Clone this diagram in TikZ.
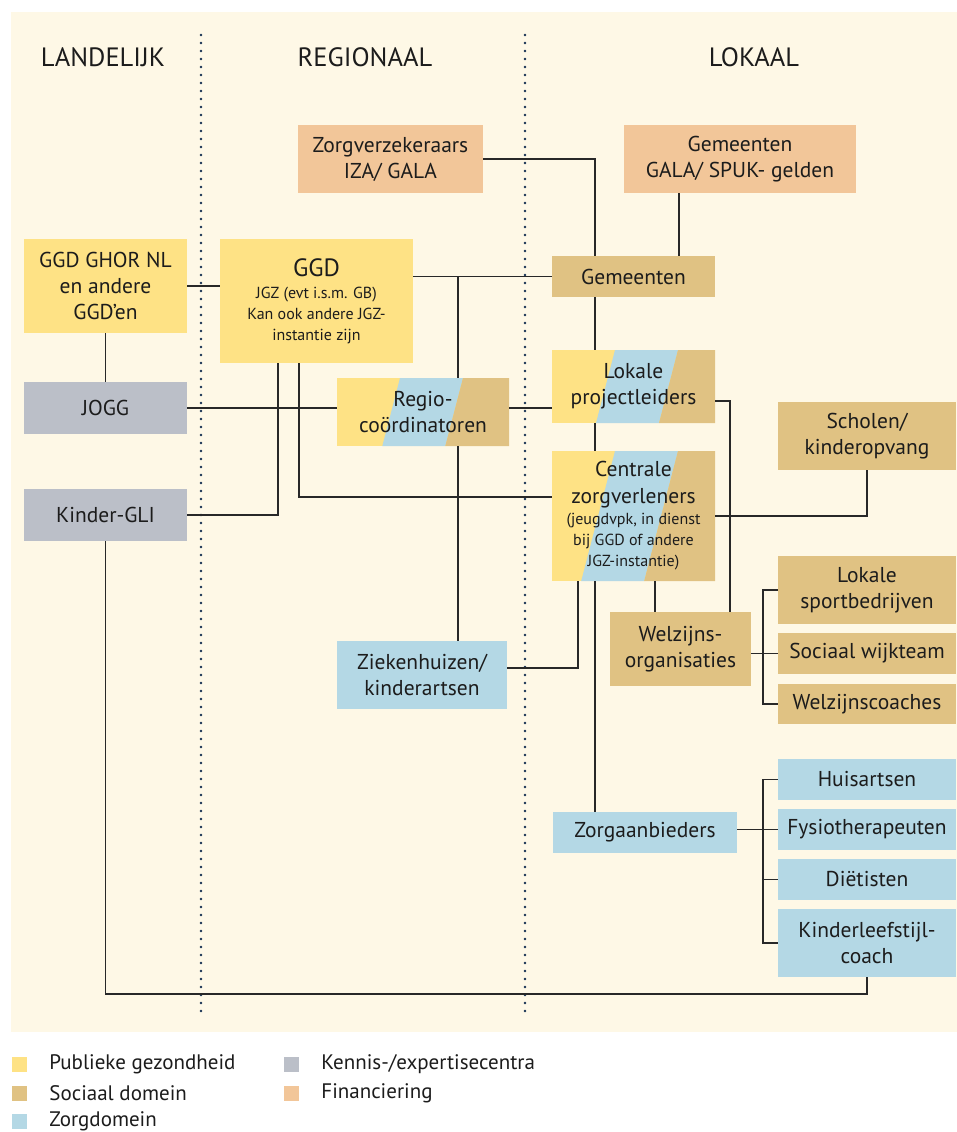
\documentclass[tikz,border=0pt]{standalone}
\usepackage{fontspec}
\setmainfont{PT Sans}
\definecolor{pgyellow}{RGB}{254,226,133}
\definecolor{sdtan}{RGB}{224,194,131}
\definecolor{zdblue}{RGB}{180,216,229}
\definecolor{kcgray}{RGB}{187,191,200}
\definecolor{fiorange}{RGB}{242,198,153}
\definecolor{bgcream}{RGB}{254,248,230}
\definecolor{lineink}{RGB}{40,40,40}
\definecolor{dotnavy}{RGB}{20,48,82}
\definecolor{textink}{RGB}{28,28,28}
\usetikzlibrary{positioning,calc}
\newcommand{\subsz}{\fontsize{16}{21}\selectfont}

\begin{document}
\begin{tikzpicture}[x=1pt, y=-1pt,
    orgbox/.style={rectangle, inner sep=0pt, align=center, text=textink,
                   font=\fontsize{21.5}{26}\selectfont},
    mixbox/.style={orgbox, fill=pgyellow, path picture={
        \fill[zdblue] let \p1=(path picture bounding box.north west),
                          \p2=(path picture bounding box.south east) in
          (\x1+63pt,\y1) -- (\x1+126pt,\y1)
          -- (\x1+126pt-0.26*\y1+0.26*\y2,\y2) -- (\x1+63pt-0.26*\y1+0.26*\y2,\y2) -- cycle;
        \fill[sdtan] let \p1=(path picture bounding box.north west),
                         \p2=(path picture bounding box.south east) in
          (\x1+126pt,\y1) -- (\x2,\y1) -- (\x2,\y2)
          -- (\x1+126pt-0.26*\y1+0.26*\y2,\y2) -- cycle;}},
    conn/.style={draw=lineink, line width=1.4pt},
    divider/.style={dotnavy, line width=2.8pt, line cap=round, dash pattern=on 0pt off 8pt},
    header/.style={font=\fontsize{26.5}{30}\selectfont, text=textink},
    legsq/.style={rectangle, inner sep=0pt, minimum size=15pt},
    legtxt/.style={inner sep=0pt, font=\fontsize{21}{24}\selectfont, text=textink}
  ]
    \useasboundingbox (0,0) rectangle (957,1132);
    \fill[white] (0,0) rectangle (957,1132);
    \fill[bgcream] (11,12) rectangle (957,1032);

    % Column dividers and headers
    \draw[divider] (201,35) -- (201,1018);
    \draw[divider] (525,35) -- (525,1018);
    \node[header] (hland) at (103,57) {LANDELIJK};
    \node[header] (hreg)  at (365,57) {REGIONAAL};
    \node[header] (hlok)  at (754,57) {LOKAAL};

    % Financiering
    \node[orgbox, fill=fiorange, minimum width=185pt, minimum height=68pt] (zv)  at (390.5,159) {Zorgverzekeraars\\IZA/ GALA};
    \node[orgbox, fill=fiorange, minimum width=232pt, minimum height=68pt] (gmf) at (740,159) {Gemeenten\\GALA/ SPUK- gelden};

    % Landelijk
    \node[orgbox, fill=pgyellow, minimum width=163pt, minimum height=94pt] (ghor) at (105.5,286) {GGD GHOR NL\\en andere\\GGD’en};
    \node[orgbox, fill=kcgray, minimum width=163pt, minimum height=52pt] (jogg) at (105.5,408) {JOGG};
    \node[orgbox, fill=kcgray, minimum width=163pt, minimum height=52pt] (gli)  at (105.5,515) {Kinder-GLI};

    % Regionaal
    \node[orgbox, fill=pgyellow, font=\subsz, minimum width=193pt, minimum height=124pt] (ggd) at (316.5,301)
      {{\fontsize{25}{28}\selectfont GGD}\\[1pt]JGZ (evt i.s.m. GB)\\Kan ook andere JGZ-\\instantie zijn};
    \node[mixbox, minimum width=172pt, minimum height=68pt] (regio) at (423,412) {Regio-\\coördinatoren};
    \node[orgbox, fill=zdblue, minimum width=170pt, minimum height=68pt] (zhuis) at (422,675) {Ziekenhuizen/\\kinderartsen};

    % Lokaal
    \node[orgbox, fill=sdtan, minimum width=163pt, minimum height=41pt] (gem) at (633.5,276.5) {Gemeenten};
    \node[mixbox, minimum width=163pt, minimum height=73pt] (plead) at (633.5,386.5) {Lokale\\projectleiders};
    \node[mixbox, font=\subsz, minimum width=163pt, minimum height=130pt] (cent) at (633.5,516)
      {{\fontsize{21.5}{26}\selectfont Centrale}\\[6pt]{\fontsize{21.5}{26}\selectfont zorgverleners}\\(jeugdvpk, in dienst\\bij GGD of andere\\JGZ-instantie)};
    \node[orgbox, fill=sdtan, minimum width=178pt, minimum height=68pt] (scholen) at (867,436) {Scholen/\\kinderopvang};
    \node[orgbox, fill=sdtan, minimum width=141pt, minimum height=74pt] (welz) at (680.5,649) {Welzijns-\\organisaties};
    \node[orgbox, fill=sdtan, minimum width=178pt, minimum height=68pt] (sport) at (867,590) {Lokale\\sportbedrijven};
    \node[orgbox, fill=sdtan, minimum width=178pt, minimum height=41pt] (wijk)  at (867,653.5) {Sociaal wijkteam};
    \node[orgbox, fill=sdtan, minimum width=178pt, minimum height=40pt] (coach) at (867,704) {Welzijnscoaches};
    \node[orgbox, fill=zdblue, minimum width=184pt, minimum height=41pt] (zorg) at (645,832.5) {Zorgaanbieders};
    \node[orgbox, fill=zdblue, minimum width=178pt, minimum height=41pt] (hui)   at (867,779.5) {Huisartsen};
    \node[orgbox, fill=zdblue, minimum width=178pt, minimum height=41pt] (fysio) at (867,829.5) {Fysiotherapeuten};
    \node[orgbox, fill=zdblue, minimum width=178pt, minimum height=41pt] (diet)  at (867,879.5) {Diëtisten};
    \node[orgbox, fill=zdblue, minimum width=178pt, minimum height=68pt] (kls)   at (867,943) {Kinderleefstijl-\\coach};

    % Helper points for the trunk lines
    \coordinate (trunk) at (595,0);
    \coordinate (regv)  at (458,276);
    \coordinate (wbr)   at (763,0);
    \coordinate (zbr)   at (763,0);
    \coordinate (loop)  at (0,994);

    % Connectors
    \draw[conn] (ghor.east) -- (ghor.east -| ggd.west);
    \draw[conn] (ghor.south) -- (jogg.north);
    \draw[conn] (ggd.east |- gem.west) -- (gem.west);
    \draw[conn] (regv |- gem.west) -- (regv |- regio.north);
    \draw[conn] (regv |- regio.south) -- (regv |- zhuis.north);
    \draw[conn] (zv.east) -| (trunk |- gem.north);
    \draw[conn] ([xshift=-61pt]gmf.south) -- ([xshift=-61pt]gmf.south |- gem.north);
    \draw[conn] (trunk |- gem.south) -- (trunk |- plead.north);
    \draw[conn] (trunk |- plead.south) -- (trunk |- cent.north);
    \draw[conn] (trunk |- cent.south) -- (trunk |- zorg.north);
    \draw[conn] (jogg.east) -- (jogg.east -| regio.west);
    \draw[conn] (jogg.east -| regio.east) -- (jogg.east -| plead.west);
    \draw[conn] ([xshift=-38.5pt]ggd.south) |- (gli.east);
    \draw[conn] ([xshift=-17.5pt]ggd.south) |- ([yshift=19pt]cent.west);
    \draw[conn] (cent.east) -| (scholen.south);
    \draw[conn] ([yshift=-14.5pt]plead.east) -| ([xshift=49.5pt]welz.north);
    \draw[conn] ([xshift=-25.5pt]welz.north) -- ([xshift=-25.5pt]welz.north |- cent.south);
    \draw[conn] ([xshift=-55.5pt]cent.south) |- ([yshift=7pt]zhuis.east);
    \draw[conn] (welz.east |- wijk.west) -- (wijk.west);
    \draw[conn] (sport.west) -| (wbr |- coach.west) -- (coach.west);
    \draw[conn] (zorg.east |- fysio.west) -- (fysio.west);
    \draw[conn] (hui.west) -| (zbr |- kls.west) -- (kls.west);
    \draw[conn] (zbr |- diet.west) -- (diet.west);
    \draw[conn] (gli.south) |- (loop -| kls.south) -- (kls.south);

    % Legend
    \node[legsq, fill=pgyellow] (lpg) at (19.5,1064.5) {};
    \node[legtxt, right=22pt of lpg] (tpg) {Publieke gezondheid};
    \node[legsq, fill=sdtan] (lsd) at (19.5,1093) {};
    \node[legtxt, right=22pt of lsd] (tsd) {Sociaal domein};
    \node[legsq, fill=zdblue] (lzd) at (19.5,1121.5) {};
    \node[legtxt, right=22pt of lzd] (tzd) {Zorgdomein};
    \node[legsq, fill=kcgray] (lkc) at (291.5,1064.5) {};
    \node[legtxt, right=22pt of lkc] (tkc) {Kennis-/expertisecentra};
    \node[legsq, fill=fiorange] (lfi) at (291.5,1093) {};
    \node[legtxt, right=22pt of lfi] (tfi) {Financiering};
  \end{tikzpicture}
\end{document}
